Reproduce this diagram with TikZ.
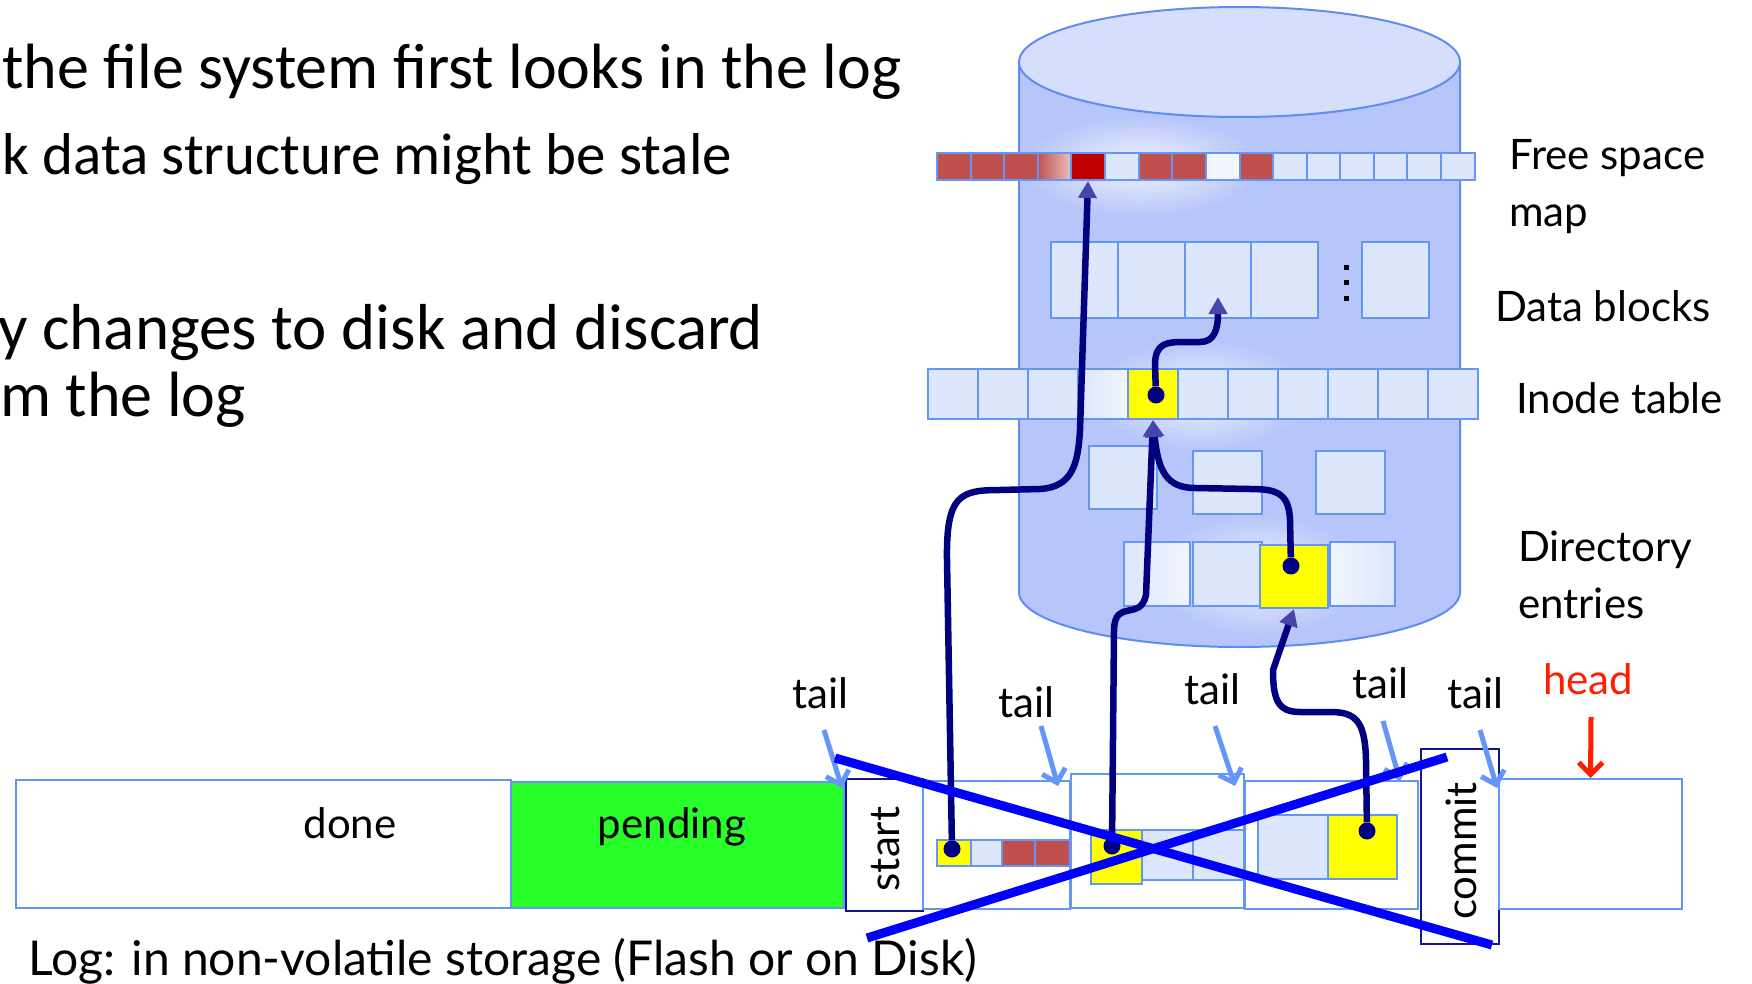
\documentclass[tikz,border=0pt]{standalone}
\usepackage{fontspec}
\setmainfont{Lato}
\newfontfamily\slidefont{Carlito}
\usetikzlibrary{arrows.meta,fadings}

\definecolor{cylside}{RGB}{183,198,250}
\definecolor{cyltop}{RGB}{213,223,252}
\definecolor{cylline}{RGB}{95,140,240}
\definecolor{cellfill}{RGB}{220,230,252}
\definecolor{cellline}{RGB}{100,150,245}
\definecolor{redcell}{RGB}{192,80,77}
\definecolor{hotred}{RGB}{192,0,0}
\definecolor{yel}{RGB}{255,255,0}
\definecolor{navyline}{RGB}{0,0,128}
\definecolor{tipblue}{RGB}{70,70,170}
\definecolor{crossblue}{RGB}{0,0,255}
\definecolor{tailblue}{RGB}{100,150,250}
\definecolor{pendgreen}{RGB}{40,255,40}
\definecolor{headred}{RGB}{255,30,0}
\definecolor{boxnavy}{RGB}{20,20,140}
\tikzfading[name=glowfade,inner color=transparent!20,outer color=transparent!100]

\begin{document}
\begin{tikzpicture}[x=1pt,y=-1pt,
  cell/.style={draw=cellline,fill=cellfill,line width=2pt,inner sep=0pt},
  hot/.style={cell,fill=yel},
  logbox/.style={draw=cellline,line width=2pt,inner sep=0pt},
  markbox/.style={draw=boxnavy,fill=white,line width=2pt,inner sep=0pt},
  lbl/.style={font=\fontsize{42}{50}\selectfont,inner sep=0pt},
  slide/.style={font=\slidefont\fontsize{64}{76}\selectfont,inner sep=0pt,anchor=base west},
  dot/.style={circle,fill=navyline,minimum size=17pt,inner sep=0pt},
  link/.style={draw=navyline,line width=6.5pt,-{Triangle[length=17pt,width=18pt,color=tipblue]}},
  pointer/.style={draw=tailblue,line width=5pt,-{Straight Barb[length=12pt,width=24pt]}},
  cross/.style={draw=crossblue,line width=9pt}]
\useasboundingbox (0,0) rectangle (1752,984);

\node[slide] (line1) at (2,89) {the file system first looks in the log};
\node[slide,font=\slidefont\fontsize{59}{70}\selectfont] (line2) at (2,175) {k data structure might be stale};
\node[slide,font=\slidefont\fontsize{65}{78}\selectfont] (line3) at (-2,349) {y changes to disk and discard};
\node[slide] (line4) at (0,416) {m the log};

\fill[cylside] (1019,62) -- (1019,592) arc[start angle=180,end angle=360,x radius=220.5pt,y radius=55pt] -- (1460,62) -- cycle;
\draw[cylline,line width=2pt] (1019,62) -- (1019,592) arc[start angle=180,end angle=360,x radius=220.5pt,y radius=55pt] -- (1460,62);
\draw[cylline,line width=2pt,fill=cyltop] (1239.5,62) ellipse[x radius=220.5pt,y radius=55pt];

\fill[white,path fading=glowfade] (1140,166) ellipse[x radius=120pt,y radius=50pt];
\fill[white,path fading=glowfade] (1200,395) ellipse[x radius=110pt,y radius=55pt];
\fill[white,path fading=glowfade] (1258,575) ellipse[x radius=105pt,y radius=60pt];

\foreach \i/\c in {1/redcell,2/redcell,3/redcell,6/cellfill,7/redcell,8/redcell,10/redcell,11/cellfill,12/cellfill,13/cellfill,14/cellfill,15/cellfill,16/cellfill}
  \node[cell,fill=\c,minimum width=33.6pt,minimum height=27pt] (fs\i) at ({937+33.6*(\i-0.5)},166.5) {};
\node[cell,left color=redcell,right color=redcell!35!white,minimum width=33.6pt,minimum height=27pt] (fs4) at (1054.4,166.5) {};
\node[cell,fill=cellfill!40!white,minimum width=33.6pt,minimum height=27pt] (fs9) at (1223.2,166.5) {};
\node[cell,fill=hotred,minimum width=33.6pt,minimum height=27pt] (fs5) at (1088,166.5) {};

\foreach \i in {1,...,4}
  \node[cell,minimum width=66.75pt,minimum height=76pt] (db\i) at ({1051+66.75*(\i-0.5)},280) {};
\node[cell,minimum width=67pt,minimum height=76pt] (db5) at (1395.5,280) {};
\foreach \y in {267,282,298}
  \node[fill=black,minimum size=5pt,inner sep=0pt] (vd\y) at (1346,\y) {};

\foreach \i in {1,2,3,6,7,8,9,10,11}
  \node[cell,minimum width=50pt,minimum height=50pt] (in\i) at ({928+50*(\i-0.5)},394) {};
\node[cell,left color=cellfill,right color=cellfill!40!white,minimum width=50pt,minimum height=50pt] (in4) at (1103,394) {};
\node[hot,minimum width=50pt,minimum height=50pt] (in5) at (1153,394) {};

\node[cell,minimum width=68pt,minimum height=63pt] (mb1) at (1123,477.5) {};
\node[cell,minimum width=69pt,minimum height=63pt] (mb2) at (1227.5,482.5) {};
\node[cell,minimum width=69pt,minimum height=63pt] (mb3) at (1350.5,482.5) {};

\node[cell,left color=cellfill,right color=cellfill!40!white,minimum width=66pt,minimum height=64pt] (de1) at (1157,574) {};
\node[cell,minimum width=69pt,minimum height=64pt] (de2) at (1227.5,574) {};
\node[cell,left color=cellfill!40!white,right color=cellfill,minimum width=65pt,minimum height=64pt] (de4) at (1362.5,574) {};
\node[hot,minimum width=68pt,minimum height=63pt] (de3) at (1294,576.5) {};

\node[logbox,minimum width=495pt,minimum height=128pt] (done) at (263.5,844) {};
\node[logbox,fill=pendgreen,minimum width=333pt,minimum height=126pt] (pend) at (677.5,845) {};
\node[markbox,minimum width=77pt,minimum height=132pt] (start) at (884.5,845) {};
\node[logbox,minimum width=147pt,minimum height=128pt] (tx1) at (996.5,845) {};
\node[logbox,minimum width=173pt,minimum height=134pt] (tx2) at (1157.5,841) {};
\node[logbox,minimum width=173pt,minimum height=128pt] (tx3) at (1331.5,845) {};
\node[markbox,minimum width=78pt,minimum height=195pt] (commit) at (1460,846.5) {};
\node[logbox,minimum width=183pt,minimum height=130pt] (headbox) at (1590.5,844) {};

\node[hot,minimum width=34pt,minimum height=26pt] (l1a) at (954,853) {};
\node[cell,minimum width=31pt,minimum height=26pt] (l1b) at (986.5,853) {};
\node[cell,fill=redcell,minimum width=33pt,minimum height=26pt] (l1c) at (1018.5,853) {};
\node[cell,fill=redcell,minimum width=35pt,minimum height=26pt] (l1d) at (1052.5,853) {};
\node[hot,minimum width=51pt,minimum height=54pt] (l2a) at (1116.5,857) {};
\node[cell,minimum width=51pt,minimum height=50pt] (l2b) at (1167.5,855) {};
\node[cell,minimum width=51pt,minimum height=50pt] (l2c) at (1218.5,855) {};
\node[cell,minimum width=70pt,minimum height=64pt] (l3a) at (1293,847) {};
\node[hot,minimum width=69pt,minimum height=64pt] (l3b) at (1362.5,847) {};

\node[lbl,anchor=base] (donetxt) at (350,838) {done};
\node[lbl,anchor=base] (pendtxt) at (672,838) {pending};
\node[lbl,rotate=90] (starttxt) at (886,849) {start};
\node[lbl,rotate=90] (committxt) at (1461,851) {commit};
\node[lbl,anchor=base west,font=\fontsize{48}{57}\selectfont] (logtxt) at (28,975) {Log: in non-volatile storage (Flash or on Disk)};

\node[lbl,anchor=base west] (fsmap) at (1509,170) {Free space};
\node[lbl,anchor=base west] (fsmap2) at (1509,227) {map};
\node[lbl,anchor=base west] (dblk) at (1495,321) {Data blocks};
\node[lbl,anchor=base west] (itab) at (1516,413) {Inode table};
\node[lbl,anchor=base west] (dent) at (1518,561) {Directory};
\node[lbl,anchor=base west] (dent2) at (1518,618) {entries};

\node[dot] (dotA) at (952,849) {};
\node[dot] (dotB) at (1112,846) {};
\node[dot] (dotC) at (1367,831) {};
\node[dot] (dotI) at (1156,395) {};
\node[dot] (dotD) at (1291,566) {};

\draw[link] (dotA) -- (947,560) .. controls (946,495) and (960,490) .. (1000,490) -- (1040,489) .. controls (1072,487) and (1078,465) .. (1080,430) -- (fs5.south);
\draw[link] (dotB) -- (1114,630) .. controls (1115,598) and (1140,622) .. (1146,595) -- (in5.south);
\draw[link] (dotD) -- (1290,520) .. controls (1289,492) and (1275,489) .. (1250,489) -- (1195,488) .. controls (1166,488) and (1158,470) .. (in5.south);
\draw[link] (dotI) -- (1155,365) .. controls (1155,342) and (1168,342) .. (1185,342) -- (1200,342) .. controls (1214,342) and (1218,330) .. (1218,297);
\draw[link] (dotC) -- (1366,760) .. controls (1365,720) and (1355,712) .. (1330,712) -- (1300,712) .. controls (1278,712) and (1273,700) .. (1273,670) -- (de3.south);

\node[lbl,anchor=base] (tail1) at (820,708) {tail};
\node[lbl,anchor=base] (tail2) at (1026,717) {tail};
\node[lbl,anchor=base] (tail3) at (1212,704) {tail};
\node[lbl,anchor=base] (tail4) at (1380,698) {tail};
\node[lbl,anchor=base] (tail5) at (1475,708) {tail};
\node[lbl,anchor=base,text=headred] (head) at (1588,694) {head};

\coordinate (p1) at (824,730);
\coordinate (p2) at (1041,726);
\coordinate (p3) at (1215,726);
\coordinate (p4) at (1383,721);
\coordinate (p5) at (1480,730);
\coordinate (ph) at (1591,717);
\draw[pointer] (p1) -- (842,788);
\draw[pointer] (p2) -- (1058,786);
\draw[pointer] (p3) -- (1235,786);
\draw[pointer] (p4) -- (1400,781);
\draw[pointer] (p5) -- (1497,788);
\draw[pointer,draw=headred] (ph) -- (headbox.north);

\coordinate (xa) at (835,758);
\coordinate (xb) at (1492,945);
\coordinate (xc) at (867,938);
\coordinate (xd) at (1447,757);
\draw[cross] (xa) -- (xb);
\draw[cross] (xc) -- (xd);
\end{tikzpicture}
\end{document}
